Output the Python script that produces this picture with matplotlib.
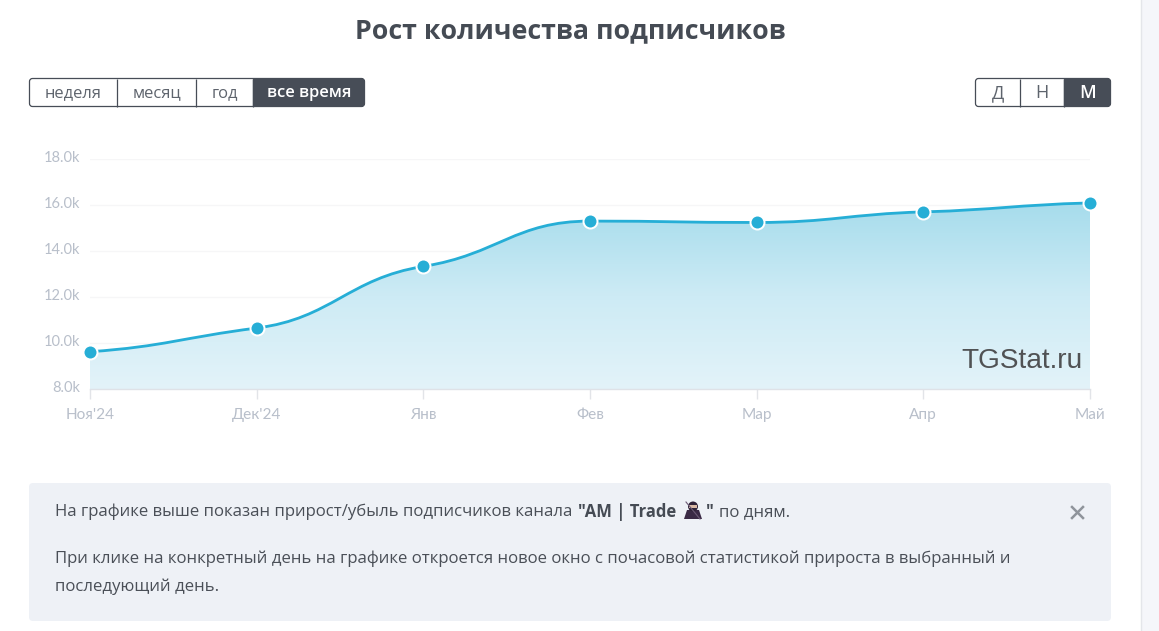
import numpy as np
import matplotlib
matplotlib.use("Agg")
import matplotlib.pyplot as plt
from matplotlib.patches import FancyBboxPatch, Rectangle, PathPatch, Circle, Polygon
from matplotlib.path import Path
from matplotlib.colors import LinearSegmentedColormap
from matplotlib.transforms import ScaledTranslation

months = ["Ноя'24", "Дек'24", "Янв", "Фев", "Мар", "Апр", "Май"]
subscribers = [9620, 10650, 13330, 15300, 15240, 15700, 16090]
y_ticks = [8000, 10000, 12000, 14000, 16000, 18000]
y_labels = ["8.0k", "10.0k", "12.0k", "14.0k", "16.0k", "18.0k"]
range_buttons = ["неделя", "месяц", "год", "все время"]
scale_buttons = ["Д", "Н", "М"]
title = "Рост количества подписчиков"

W, H = 1159, 631
DARK = "#474d57"
TEXT = "#454b54"
BLUE = "#26aed6"
LABEL = "#b8bfca"
FONT = ["Open Sans", "DejaVu Sans"]
plt.rcParams["font.family"] = FONT

def px(v):
    return v * 0.72

fig = plt.figure(figsize=(W / 100, H / 100), dpi=100, facecolor="white")

# page layer in pixel coordinates
page = fig.add_axes([0, 0, 1, 1], zorder=2)
page.set_xlim(0, W)
page.set_ylim(H, 0)
page.axis("off")
page.add_patch(Rectangle((1141, 0), 18, H, fc="#f5f6fa", ec="none"))
page.plot([1141, 1141], [0, H], color="#e4e6ea", lw=1)
page.text(570, 31.5, title, ha="center", va="center", fontsize=px(26.7), fontweight="bold", color=TEXT)

def button_group(edges, labels, active, y0=78.5, y1=106.5, fs=16.5):
    x0, x1 = edges[0], edges[-1]
    page.add_patch(FancyBboxPatch((x0, y0), x1 - x0, y1 - y0, boxstyle="round,pad=0,rounding_size=3",
                                  fc="white", ec=DARK, lw=0.9, zorder=2))
    a0, a1 = edges[active], edges[active + 1]
    clip = FancyBboxPatch((x0, y0), x1 - x0, y1 - y0, boxstyle="round,pad=0,rounding_size=3",
                          fc="none", ec="none", transform=page.transData)
    page.add_patch(clip)
    r = Rectangle((a0, y0), a1 - a0, y1 - y0, fc=DARK, ec=DARK, lw=1, zorder=3)
    page.add_patch(r)
    r.set_clip_path(clip)
    for e in edges[1:-1]:
        page.plot([e, e], [y0, y1], color=DARK, lw=0.9, zorder=3, solid_capstyle="butt")
    for i, lab in enumerate(labels):
        page.text((edges[i] + edges[i + 1]) / 2, (y0 + y1) / 2 + 0.5, lab, ha="center", va="center",
                  fontsize=px(fs), color="white" if i == active else "#5e646d",
                  fontweight="semibold" if i == active else "normal", zorder=4)

button_group([29.5, 117, 196, 253, 364.5], range_buttons, 3)
button_group([975.5, 1020, 1064, 1110.5], scale_buttons, 2, fs=18)

# info box
page.add_patch(FancyBboxPatch((29, 483), 1082, 138, boxstyle="round,pad=0,rounding_size=4", fc="#eef1f6", ec="none"))
TXT = "#4a4f57"
FS = 16.8
page.text(55, 512, "На графике выше показан прирост/убыль подписчиков канала", va="center", fontsize=px(FS), color=TXT)
page.text(578, 512, '"AM | Trade', va="center", fontsize=px(16.6), color=TEXT, fontweight="bold")
page.text(706, 512, '"', va="center", fontsize=px(16.6), color=TEXT, fontweight="bold")
page.text(719, 512, "по дням.", va="center", fontsize=px(FS), color=TXT)
page.text(55, 559, "При клике на конкретный день на графике откроется новое окно с почасовой статистикой прироста в выбранный и",
          va="center", fontsize=px(FS), color=TXT)
page.text(55, 586.5, "последующий день.", va="center", fontsize=px(FS), color=TXT)
# close cross
page.plot([1072, 1083], [507, 518], color="#8f949b", lw=1.8)
page.plot([1072, 1083], [518, 507], color="#8f949b", lw=1.8)
# ninja glyph
page.add_patch(Polygon([[684, 519], [687, 510], [699, 510], [702, 519]], fc="#3a2a45", ec="none"))
page.add_patch(Circle((693, 506.5), 5, fc="#2f2338", ec="none"))
page.add_patch(Rectangle((689, 505), 8, 2.5, fc="#d9b9a5", ec="none"))
page.plot([686, 700], [502, 519], color="#6b5a75", lw=0.8)

# chart layer
L, R, T, B = 90, 1090, 159, 389
ax = fig.add_axes([L / W, 1 - B / H, (R - L) / W, (B - T) / H], zorder=1)
ax.patch.set_alpha(0)
ax.set_xlim(0, len(months) - 1)
ax.set_ylim(8000, 18000)
for s in ["top", "left", "right"]:
    ax.spines[s].set_visible(False)
ax.spines["bottom"].set_color("#dfe2e7")
ax.spines["bottom"].set_linewidth(1)
ax.set_yticks(y_ticks, y_labels)
ax.set_xticks(range(len(months)), months)
ax.tick_params(axis="y", length=0, pad=6.8, labelsize=px(14.6), labelcolor=LABEL)
ax.tick_params(axis="x", length=7, width=1, color="#e2e4e8", pad=7, labelsize=px(15.4), labelcolor=LABEL)
for t in ax.get_xticklabels() + ax.get_yticklabels():
    t.set_fontfamily(["Lato", "Open Sans", "DejaVu Sans"])
shift = ScaledTranslation(0, 2.5 / 100, fig.dpi_scale_trans)
for t in ax.get_yticklabels():
    t.set_transform(t.get_transform() + shift)
ax.grid(axis="y", color="#f6f6f7", lw=1)
ax.set_axisbelow(True)

def spline_path(xs, ys, handle=0.45, flatten=0.5):
    """Cubic path through the points; flattened tangents, level at local turning points."""
    n = len(xs)
    slopes = []
    for i in range(n):
        a, b = max(i - 1, 0), min(i + 1, n - 1)
        m = flatten * (ys[b] - ys[a]) / (xs[b] - xs[a])
        if 0 < i < n - 1 and (ys[i] - ys[i - 1]) * (ys[i + 1] - ys[i]) <= 0:
            m = 0.0
        slopes.append(m)
    verts, codes = [(xs[0], ys[0])], [Path.MOVETO]
    for i in range(1, n):
        d = handle * (xs[i] - xs[i - 1])
        verts += [(xs[i - 1] + d, ys[i - 1] + d * slopes[i - 1]),
                  (xs[i] - d, ys[i] - d * slopes[i]),
                  (xs[i], ys[i])]
        codes += [Path.CURVE4] * 3
    return verts, codes

xs = list(range(len(months)))
verts, codes = spline_path(xs, subscribers)
cmap = LinearSegmentedColormap.from_list("fill", ["#e3f3f9", "#cdebf5", "#a6dcec"])
img = ax.imshow(np.linspace(1, 0, 256).reshape(-1, 1), aspect="auto", cmap=cmap, vmin=0, vmax=1,
                extent=[0, len(months) - 1, 8000, max(subscribers)], zorder=1)
area = PathPatch(Path(verts + [(xs[-1], 8000), (xs[0], 8000), (xs[0], subscribers[0])],
                      codes + [Path.LINETO, Path.LINETO, Path.LINETO]),
                 fc="none", ec="none", transform=ax.transData)
ax.add_patch(area)
img.set_clip_path(area)
ax.set_xlim(0, len(months) - 1)
ax.set_ylim(8000, 18000)
ax.add_patch(PathPatch(Path(verts, codes), fc="none", ec=BLUE, lw=px(2.8), zorder=3, capstyle="round"))
ax.plot(xs, subscribers, ls="none", marker="o", ms=px(14), mfc=BLUE, mec="white", mew=px(2), zorder=4, clip_on=False)

page.text(1083, 361.5, "TGStat.ru", ha="right", va="center", fontsize=px(28), color="#505254",
          family=["Liberation Sans", "DejaVu Sans"], zorder=5)
page.patch.set_alpha(0)

fig.savefig("out.png", dpi=100, facecolor="white")
